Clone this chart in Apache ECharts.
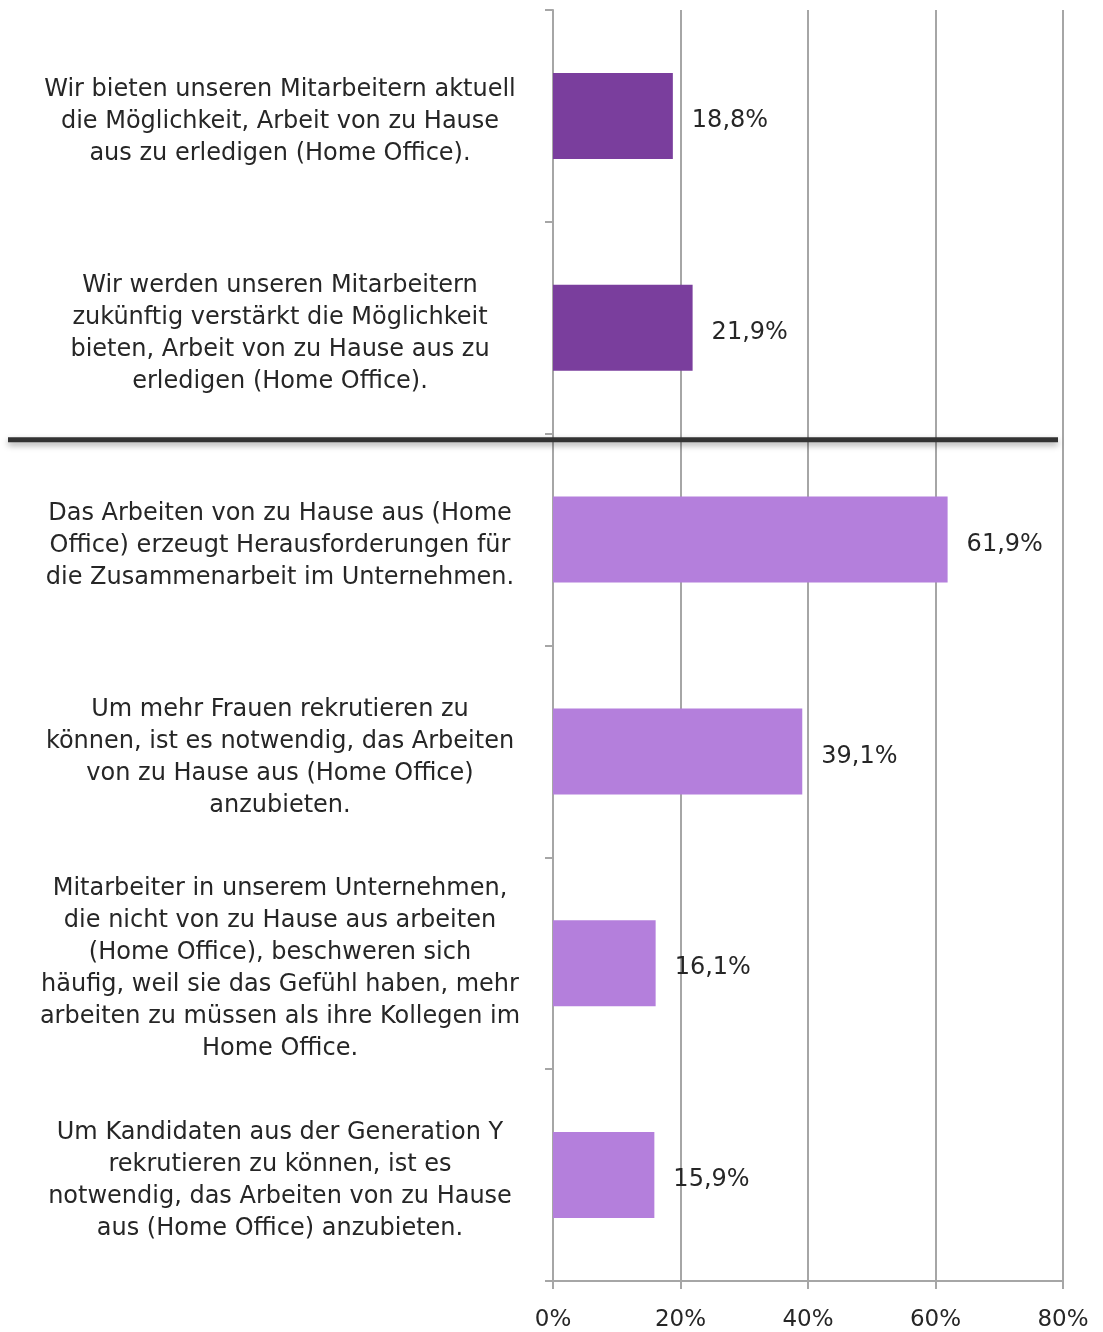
<!DOCTYPE html>
<html>
<head>
<meta charset="utf-8">
<script src="https://cdn.jsdelivr.net/npm/echarts@6/dist/echarts.min.js"></script>
<style>
  html, body { margin: 0; padding: 0; background: #fff; }
  #chart { width: 1103px; height: 1332px; }
</style>
</head>
<body>
<div id="chart"></div>
<script>
// Survey statements (top to bottom)
const categories = [
  'Wir bieten unseren Mitarbeitern aktuell\ndie Möglichkeit, Arbeit von zu Hause\naus zu erledigen (Home Office).',
  'Wir werden unseren Mitarbeitern\nzukünftig verstärkt die Möglichkeit\nbieten, Arbeit von zu Hause aus zu\nerledigen (Home Office).',
  'Das Arbeiten von zu Hause aus (Home\nOffice) erzeugt Herausforderungen für\ndie Zusammenarbeit im Unternehmen.',
  'Um mehr Frauen rekrutieren zu\nkönnen, ist es notwendig, das Arbeiten\nvon zu Hause aus (Home Office)\nanzubieten.',
  'Mitarbeiter in unserem Unternehmen,\ndie nicht von zu Hause aus arbeiten\n(Home Office), beschweren sich\nhäufig, weil sie das Gefühl haben, mehr\narbeiten zu müssen als ihre Kollegen im\nHome Office.',
  'Um Kandidaten aus der Generation Y\nrekrutieren zu können, ist es\nnotwendig, das Arbeiten von zu Hause\naus (Home Office) anzubieten.'
];
const shares = [18.8, 21.9, 61.9, 39.1, 16.1, 15.9];
// The first two statements describe the company's own offer
const groups = ['own', 'own', 'opinion', 'opinion', 'opinion', 'opinion'];
const xTicks = [0, 20, 40, 60, 80];

const groupColor = { own: '#7A3E9D', opinion: '#B47FDC' };
const font = '"DejaVu Sans", "Open Sans", sans-serif';
const textColor = '#262626';
const axisGray = '#A6A6A6';

const chart = echarts.init(document.getElementById('chart'));

chart.setOption({
  animation: false,
  backgroundColor: '#fff',
  grid: { left: 553, right: 40, top: 10, bottom: 51, containLabel: false },
  xAxis: {
    type: 'value',
    min: xTicks[0],
    max: xTicks[xTicks.length - 1],
    interval: xTicks[1] - xTicks[0],
    axisLine: { show: true, lineStyle: { color: axisGray, width: 2 } },
    axisTick: { show: true, length: 8, lineStyle: { color: axisGray, width: 2 } },
    splitLine: { show: true, lineStyle: { color: axisGray, width: 2 } },
    axisLabel: {
      margin: 28,
      fontFamily: font,
      fontSize: 23,
      color: textColor,
      formatter: v => v + '%'
    }
  },
  yAxis: {
    type: 'category',
    inverse: true,
    data: categories,
    axisLine: { show: true, lineStyle: { color: axisGray, width: 2 } },
    axisTick: { show: true, length: 8, lineStyle: { color: axisGray, width: 2 } },
    axisLabel: {
      align: 'center',
      margin: 273,
      fontFamily: font,
      fontSize: 24,
      lineHeight: 32,
      color: textColor,
      // a thin blank first row nudges each text block slightly downward
      formatter: v => '{gap| }\n' + v,
      rich: { gap: { fontSize: 2, lineHeight: 12 } }
    }
  },
  series: [{
    type: 'bar',
    barWidth: 86,
    data: shares.map((v, i) => ({
      value: v,
      itemStyle: { color: groupColor[groups[i]] }
    })),
    label: {
      show: true,
      position: 'right',
      distance: 19,
      offset: [0, 5],
      fontFamily: font,
      fontSize: 24,
      color: textColor,
      formatter: p => String(p.value).replace('.', ',') + '%'
    }
  }]
});

// Separator between the company's own offer and the opinion statements
function drawSeparator() {
  const y1 = chart.convertToPixel({ yAxisIndex: 0 }, categories[1]);
  const y2 = chart.convertToPixel({ yAxisIndex: 0 }, categories[2]);
  const y = (y1 + y2) / 2 + 6;
  chart.setOption({
    graphic: [{
      type: 'line',
      shape: { x1: 8, y1: y, x2: 1058, y2: y },
      style: {
        stroke: '#333333',
        lineWidth: 5,
        shadowBlur: 6,
        shadowOffsetY: 3,
        shadowColor: 'rgba(0,0,0,0.35)'
      },
      z: 100
    }]
  });
}
drawSeparator();
</script>
</body>
</html>
